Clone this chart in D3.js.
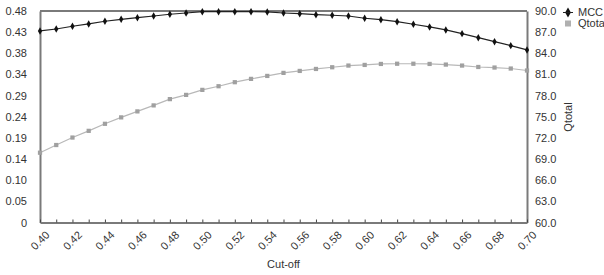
<!DOCTYPE html>
<html>
<head>
<meta charset="utf-8">
<script src="https://cdn.jsdelivr.net/npm/d3@7"></script>
<style>
  html, body { margin: 0; padding: 0; background: #fff; }
  svg { display: block; font-family: "Liberation Sans", Arial, Helvetica, sans-serif; }
</style>
</head>
<body>
<svg id="chart" width="604" height="275"></svg>
<script>
const cutoff = [0.40,0.41,0.42,0.43,0.44,0.45,0.46,0.47,0.48,0.49,0.50,0.51,0.52,0.53,0.54,0.55,0.56,0.57,0.58,0.59,0.60,0.61,0.62,0.63,0.64,0.65,0.66,0.67,0.68,0.69,0.70];
const mcc = [0.4347,0.4392,0.4454,0.4506,0.4567,0.4612,0.4649,0.4687,0.4726,0.4755,0.4785,0.4785,0.4785,0.4785,0.4778,0.4755,0.4739,0.4717,0.4703,0.4687,0.4635,0.4603,0.4558,0.4499,0.4438,0.4370,0.4286,0.4195,0.4104,0.4014,0.3916];
const qtotal = [69.90,70.99,72.05,73.00,74.00,74.91,75.76,76.61,77.50,78.10,78.81,79.33,79.90,80.37,80.79,81.22,81.50,81.78,82.02,82.26,82.35,82.49,82.52,82.52,82.49,82.40,82.26,82.06,81.98,81.84,81.56];
const xTickValues = [0.40,0.42,0.44,0.46,0.48,0.50,0.52,0.54,0.56,0.58,0.60,0.62,0.64,0.66,0.68,0.70];
const xTickLabels = ["0.40","0.42","0.44","0.46","0.48","0.50","0.52","0.54","0.56","0.58","0.60","0.62","0.64","0.66","0.68","0.70"];
const leftTickValues = [0,0.048,0.096,0.144,0.192,0.24,0.288,0.336,0.384,0.432,0.48];
const leftTickLabels = ["0","0.05","0.10","0.14","0.19","0.24","0.29","0.34","0.38","0.43","0.48"];
const rightTickValues = [60,63,66,69,72,75,78,81,84,87,90];
const rightTickLabels = ["60.0","63.0","66.0","69.0","72.0","75.0","78.0","81.0","84.0","87.0","90.0"];
const seriesNames = ["MCC","Qtotal"];

const svg = d3.select("#chart");
const L = 40, R = 527, T = 11, B = 222.5;
const x = d3.scaleLinear().domain([0.40, 0.70]).range([L, R]);
const yL = d3.scaleLinear().domain([0, 0.48]).range([B, T]);
const yR = d3.scaleLinear().domain([60, 90]).range([B, T]);
const axisCol = "#7a7a7a", textCol = "#333";

// frame (top and right)
svg.append("line").attr("x1", L).attr("x2", R).attr("y1", T).attr("y2", T)
  .attr("stroke", axisCol).attr("stroke-width", 2);

// left axis
const gL = svg.append("g").attr("transform", `translate(${L},0)`)
  .call(d3.axisLeft(yL).tickValues(leftTickValues)
    .tickFormat((d, i) => leftTickLabels[i]).tickSize(0).tickPadding(13));
gL.select(".domain").attr("stroke", axisCol).attr("stroke-width", 2);

// right axis
const gR = svg.append("g").attr("transform", `translate(${R},0)`)
  .call(d3.axisRight(yR).tickValues(rightTickValues)
    .tickFormat((d, i) => rightTickLabels[i]).tickSize(0).tickPadding(8));
gR.select(".domain").attr("stroke", axisCol).attr("stroke-width", 2);

// bottom axis minor ticks
const gB = svg.append("g").attr("transform", `translate(0,${B})`)
  .call(d3.axisBottom(x).tickValues(cutoff).tickFormat("").tickSizeInner(-3).tickSizeOuter(0));
gB.select(".domain").attr("stroke", axisCol).attr("stroke-width", 2);
gB.selectAll(".tick line").attr("stroke", "#444").attr("stroke-width", 1);

// bottom labels rotated
svg.append("g").selectAll("text").data(xTickValues).join("text")
  .attr("transform", d => `translate(${x(d)},${B + 18}) rotate(-45)`)
  .attr("text-anchor", "middle").attr("dy", "0.35em")
  .attr("font-size", 11).attr("fill", textCol)
  .text((d, i) => xTickLabels[i]);

svg.selectAll(".tick text").attr("font-size", 11).attr("fill", textCol)
  .attr("font-family", '"Liberation Sans", Arial, sans-serif');

// axis titles
svg.append("text").attr("x", (L + R) / 2).attr("y", 268)
  .attr("text-anchor", "middle").attr("font-size", 11).attr("fill", textCol).text("Cut-off");
svg.append("text").attr("transform", `translate(572,117) rotate(-90)`)
  .attr("text-anchor", "middle").attr("font-size", 11).attr("fill", textCol).text("Qtotal");

// Qtotal series
const qData = cutoff.map((c, i) => [c, qtotal[i]]);
svg.append("path").datum(qData)
  .attr("fill", "none").attr("stroke", "#b8b8b8").attr("stroke-width", 1.2)
  .attr("d", d3.line().x(d => x(d[0])).y(d => yR(d[1])));
svg.append("g").selectAll("path").data(qData).join("path")
  .attr("transform", d => `translate(${x(d[0])},${yR(d[1])})`)
  .attr("d", d3.symbol(d3.symbolSquare, 18)).attr("fill", "#a0a0a0");

// MCC series
const mData = cutoff.map((c, i) => [c, mcc[i]]);
svg.append("path").datum(mData)
  .attr("fill", "none").attr("stroke", "#222").attr("stroke-width", 1.2)
  .attr("d", d3.line().x(d => x(d[0])).y(d => yL(d[1])));
svg.append("g").selectAll("path").data(mData).join("path")
  .attr("transform", d => `translate(${x(d[0])},${yL(d[1])})`)
  .attr("d", d3.symbol(d3.symbolDiamond, 16)).attr("fill", "#111");

// legend
const leg = svg.append("g");
leg.append("path").attr("transform", "translate(568,12.5)")
  .attr("d", d3.symbol(d3.symbolDiamond, 28)).attr("fill", "#111");
leg.append("line").attr("x1", 563).attr("x2", 573).attr("y1", 12.5).attr("y2", 12.5)
  .attr("stroke", "#222").attr("stroke-width", 1);
leg.append("rect").attr("x", 565).attr("y", 20.5).attr("width", 6).attr("height", 6).attr("fill", "#b0b0b0");
leg.append("text").attr("x", 578).attr("y", 12.5).attr("dy", "0.35em")
  .attr("font-size", 11).attr("fill", textCol).text(seriesNames[0]);
leg.append("text").attr("x", 578).attr("y", 23.5).attr("dy", "0.35em")
  .attr("font-size", 11).attr("fill", textCol).text(seriesNames[1]);
</script>
</body>
</html>
